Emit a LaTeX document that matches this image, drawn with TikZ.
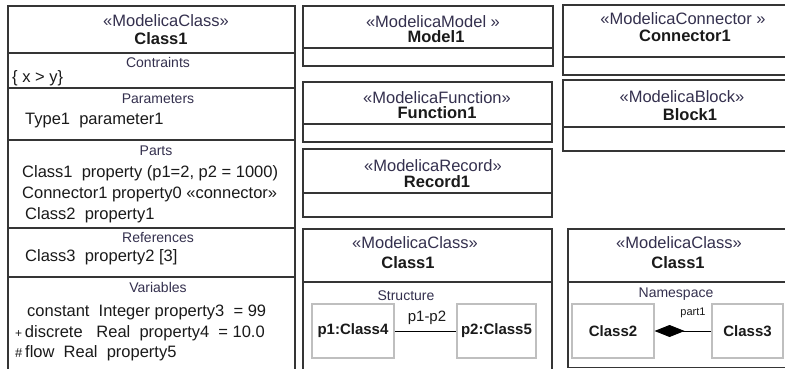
\documentclass[tikz,border=0pt]{standalone}
\usepackage{fontspec}
\setmainfont{Liberation Sans}
\usetikzlibrary{arrows.meta}
\definecolor{frame}{HTML}{353535}
\definecolor{partline}{HTML}{BFBFBF}
\definecolor{stereoink}{HTML}{34304E}
\definecolor{ink}{HTML}{1A1A1A}
\tikzset{
  outer/.style={draw=frame, line width=1.5pt},
  stereo/.style={text=stereoink, inner sep=0pt, font=\fontsize{16.5}{18}\selectfont},
  title/.style={text=ink, inner sep=0pt, font=\bfseries\fontsize{16.5}{18}\selectfont},
  sect/.style={text=stereoink, inner sep=0pt, font=\fontsize{14}{16}\selectfont},
  body/.style={text=ink, inner sep=0pt, anchor=west, font=\fontsize{16.5}{18}\selectfont},
  partbox/.style={draw=partline, line width=1.2pt, fill=white, minimum height=54pt,
    text=ink, font=\bfseries\fontsize{15}{17}\selectfont},
  link/.style={draw=black, line width=1pt},
  linklabel/.style={text=ink, inner sep=0pt}
}
\begin{document}
\begin{tikzpicture}[x=1pt, y=-1pt]
\clip (0,0) rectangle (785,369);
\fill[white] (0,0) rectangle (785,369);

% ---- ModelicaClass with its compartments ----
\draw[outer] (8,375) |- (295,6) -- (295,375);
\foreach \yy in {53,88,140,228,277} \draw[outer] (8,\yy) -- (295,\yy);
\node[stereo] (lcS) at (166,21) {«ModelicaClass»};
\node[title]  (lcN) at (161,39) {Class1};
\node[sect] (cons) at (158,62) {Contraints};
\node[body] (cons1) at (12,78) {\{ x > y\}};
\node[sect] (para) at (158,99) {Parameters};
\node[body] (para1) at (25,121) {Type1~ parameter1};
\node[sect] (parts) at (156,151) {Parts};
\node[body] (parts1) at (22,173) {Class1~ property (p1=2, p2 = 1000)};
\node[body] (parts2) at (22,194) {Connector1 property0 «connector»};
\node[body] (parts3) at (25,215) {Class2~ property1};
\node[sect] (refs) at (158,238) {References};
\node[body] (refs1) at (25,257) {Class3~ property2 [3]};
\node[sect] (vars) at (158,287) {Variables};
\node[body] (vars1) at (27,312) {constant~ Integer property3~ = 99};
\node[body] (vars2) at (15,333) {{\fontsize{12}{12}\selectfont+}\,discrete~~ Real~ property4~ = 10.0};
\node[body] (vars3) at (15,353) {{\fontsize{13}{13}\selectfont\#}\,flow~ Real~ property5};

% ---- middle column ----
\draw[outer] (303,6) rectangle (553,66);
\draw[outer] (303,48) -- (553,48);
\node[stereo] (mS) at (433,22) {«ModelicaModel »};
\node[title]  (mN) at (436,37) {Model1};

\draw[outer] (303,82) rectangle (552,142);
\draw[outer] (303,124) -- (552,124);
\node[stereo] (fS) at (437,98) {«ModelicaFunction»};
\node[title]  (fN) at (437,113) {Function1};

\draw[outer] (303,149) rectangle (552,217);
\draw[outer] (303,193) -- (552,193);
\node[stereo] (rS) at (433,166) {«ModelicaRecord»};
\node[title]  (rN) at (437,182) {Record1};

% ---- Class1 with internal structure ----
\draw[outer] (303,375) |- (552,229) -- (552,375);
\draw[outer] (303,282) -- (552,282);
\node[stereo] (sS) at (415,243) {«ModelicaClass»};
\node[title]  (sN) at (408,263) {Class1};
\node[sect] (struct) at (406,296) {Structure};
\node[partbox, minimum width=82pt] (p1) at (353,331) {p1:Class4};
\node[partbox, minimum width=79pt] (p2) at (496.5,331) {p2:Class5};
\draw[link] (p1) -- (p2);
\node[linklabel, font=\fontsize{15}{16}\selectfont] (pl) at (427,318) {p1-p2};

% ---- right column ----
\draw[outer] (795,5) -| (563,75) -- (795,75);
\draw[outer] (563,57) -- (795,57);
\node[stereo] (cS) at (683,19) {«ModelicaConnector »};
\node[title]  (cN) at (685,36) {Connector1};

\draw[outer] (795,80) -| (563,151) -- (795,151);
\draw[outer] (563,127) -- (795,127);
\node[stereo] (bS) at (682,97) {«ModelicaBlock»};
\node[title]  (bN) at (690,115) {Block1};

% ---- Class1 with namespace containment ----
\draw[outer] (795,229) -| (568,367.5) -- (795,367.5);
\draw[outer] (568,282) -- (795,282);
\node[stereo] (nS) at (679,243) {«ModelicaClass»};
\node[title]  (nN) at (678,263) {Class1};
\node[sect] (ns) at (676,294) {Namespace};
\node[partbox, minimum width=82pt] (c2) at (613,331) {Class2};
\node[partbox, minimum width=71pt] (c3) at (747.5,331) {Class3};
\draw[link, {Diamond[length=30pt, width=12pt]}-] (c2) -- (c3);
\node[linklabel, font=\fontsize{11}{12}\selectfont] (part) at (693,313) {part1};
\end{tikzpicture}
\end{document}
